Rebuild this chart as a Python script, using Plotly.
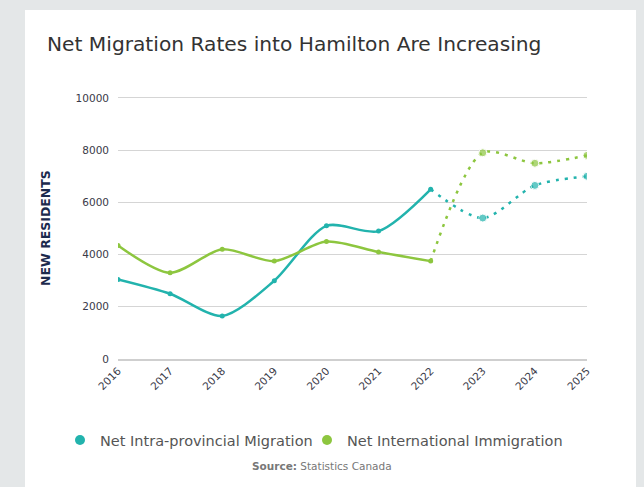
import plotly.graph_objects as go

# Annual net migration into Hamilton (2023-2025 are projections)
years = ["2016", "2017", "2018", "2019", "2020", "2021", "2022", "2023", "2024", "2025"]
intra_provincial = [3050, 2500, 1650, 3000, 5100, 4900, 6500, 5400, 6650, 7000]
international = [4350, 3300, 4200, 3750, 4500, 4100, 3750, 7900, 7500, 7800]
y_ticks = [0, 2000, 4000, 6000, 8000, 10000]
last_actual = "2022"

TEAL = "#22b3ad"
GREEN = "#8dc63f"
FRAME = "#e4e7e8"
FONT = "DejaVu Sans"
split = years.index(last_actual)

W, H = 644, 487
L, R, T, B = 118, 57, 87, 128


def px_x(px):
    """Container pixel column -> paper x."""
    return (px - L) / (W - L - R)


def px_y(px):
    """Container pixel row -> paper y."""
    return (H - B - px) / (H - T - B)


fig = go.Figure()

series = [
    ("Net Intra-provincial Migration", intra_provincial, TEAL, "legend"),
    ("Net International Immigration", international, GREEN, "legend2"),
]
for name, values, color, legend_id in series:
    # observed years: solid smoothed line
    fig.add_trace(go.Scatter(
        x=years[:split + 1], y=values[:split + 1], mode="lines+markers",
        line=dict(color=color, width=2.5, shape="spline", smoothing=0.8),
        marker=dict(color=color, size=5), showlegend=False, name=name))
    # projected years: dotted smoothed line
    fig.add_trace(go.Scatter(
        x=years[split:], y=values[split:], mode="lines+markers",
        line=dict(color=color, width=2.5, dash="3px,6px", shape="spline", smoothing=0.8),
        marker=dict(color=color, size=[0] + [8] * (len(years) - split - 1)),
        showlegend=False, name=name))
    # legend entry shown as a dot only
    fig.add_trace(go.Scatter(
        x=[None], y=[None], mode="markers", name=name, legend=legend_id,
        marker=dict(color=color, size=10)))

legend_style = dict(orientation="h", xref="container", xanchor="left",
                    yref="container", y=1 - 440 / H, yanchor="middle",
                    font=dict(size=14.5, color="#555"), itemwidth=30,
                    bgcolor="rgba(0,0,0,0)")

# grey frame around the white card
frame = [
    dict(x0=px_x(0), x1=px_x(25), y0=px_y(H), y1=px_y(0)),
    dict(x0=px_x(636), x1=px_x(W), y0=px_y(H), y1=px_y(0)),
    dict(x0=px_x(0), x1=px_x(W), y0=px_y(10), y1=px_y(0)),
]
shapes = [dict(type="rect", xref="paper", yref="paper", fillcolor=FRAME,
               line=dict(width=0), layer="below", **f) for f in frame]
# divider between observed and projected years
shapes.append(dict(type="line", xref="x", yref="paper", x0=last_actual, x1=last_actual,
                   y0=0, y1=1, line=dict(color="#b5b9bb", width=1.5)))

fig.update_layout(
    width=W, height=H,
    margin=dict(l=L, r=R, t=T, b=B),
    paper_bgcolor="white", plot_bgcolor="white",
    font=dict(family=FONT, color="#444"),
    title=dict(text="Net Migration Rates into Hamilton Are Increasing",
               xref="container", yref="container", x=47 / W, xanchor="left",
               y=1 - 44 / H, yanchor="middle",
               font=dict(size=20.2, color="#333")),
    xaxis=dict(type="category", range=[0, 9], tickangle=-45,
               tickfont=dict(size=10.5, color="#3a3a48"), showgrid=False,
               showline=True, linecolor="#cfcfcf", linewidth=1.5, ticks=""),
    yaxis=dict(range=[0, 10420], tickvals=y_ticks, ticktext=[str(v) for v in y_ticks],
               tickfont=dict(size=10.5, color="#3a3a48"), ticklabelstandoff=8,
               gridcolor="#d5d5d5", gridwidth=1, zeroline=False, ticks="",
               showline=False),
    legend=dict(legend_style, x=60 / W),
    legend2=dict(legend_style, x=307 / W),
    shapes=shapes,
    annotations=[
        dict(text="<b>NEW RESIDENTS</b>", xref="paper", yref="paper",
             x=px_x(46), y=px_y(228), xanchor="center", yanchor="middle",
             textangle=-90, showarrow=False, font=dict(size=12.5, color="#1c2a4d")),
        dict(text="<b>Source:</b> Statistics Canada", xref="paper", yref="paper",
             x=px_x(322), y=px_y(466), xanchor="center", yanchor="middle",
             showarrow=False, font=dict(size=10.5, color="#777")),
    ],
)

fig.write_html("out.html")
